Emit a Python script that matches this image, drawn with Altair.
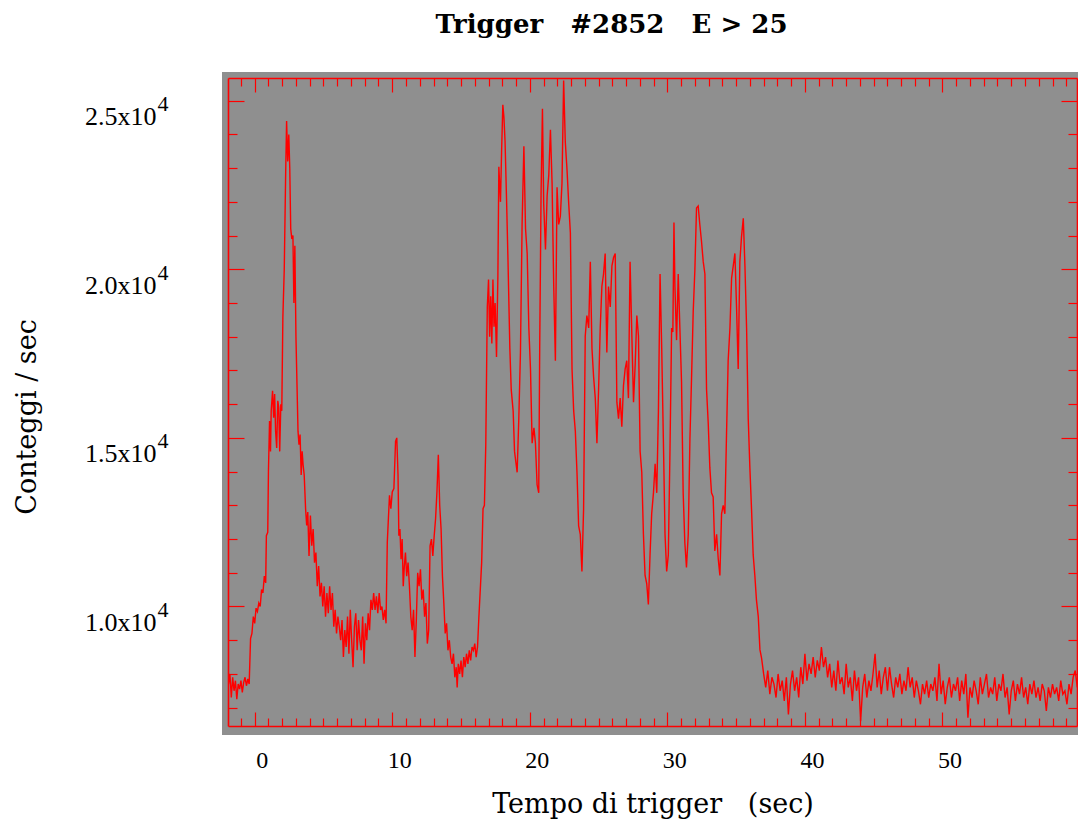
import altair as alt
import pandas as pd

# ---- data ----
burst_t = [
    -1.90, -1.80, -1.70, -1.60, -1.50, -1.40, -1.30, -1.20, -1.10, -1.00,
    -0.90, -0.80, -0.70, -0.60, -0.50, -0.40, -0.30, -0.20, -0.10, 0.00,
    0.10, 0.20, 0.30, 0.40, 0.50, 0.60, 0.70, 0.80, 0.85, 0.95,
    1.00, 1.08, 1.15, 1.20, 1.30, 1.38, 1.45, 1.52, 1.60, 1.68,
    1.75, 1.82, 1.90, 1.97, 2.05, 2.15, 2.25, 2.32, 2.40, 2.48,
    2.55, 2.62, 2.70, 2.78, 2.85, 2.92, 3.00, 3.08, 3.15, 3.22,
    3.30, 3.38, 3.45, 3.52, 3.60, 3.70, 3.78, 3.86, 3.95, 4.05,
    4.15, 4.25, 4.35, 4.45, 4.55, 4.65, 4.75, 4.85, 4.95, 5.05,
    5.15, 5.25, 5.35, 5.45, 5.55, 5.65, 5.75, 5.85, 5.95, 6.05,
    6.15, 6.25, 6.35, 6.45, 6.55, 6.65, 6.75, 6.85, 6.95, 7.05,
    7.15, 7.25, 7.35, 7.45, 7.55, 7.65, 7.75, 7.85, 7.95, 8.05,
    8.15, 8.25, 8.35, 8.45, 8.55, 8.65, 8.75, 8.85, 8.95, 9.05,
    9.15, 9.25, 9.35, 9.45, 9.55, 9.64, 9.72, 9.80, 9.90, 10.00,
    10.12, 10.24, 10.33, 10.42, 10.48, 10.56, 10.64, 10.72, 10.80, 10.88,
    10.96, 11.05, 11.15, 11.25, 11.35, 11.45, 11.55, 11.65, 11.75, 11.85,
    11.95, 12.05, 12.15, 12.25, 12.35, 12.45, 12.55, 12.65, 12.75, 12.85,
    12.95, 13.05, 13.15, 13.25, 13.35, 13.45, 13.55, 13.65, 13.75, 13.85,
    13.95, 14.05, 14.15, 14.25, 14.35, 14.45, 14.55, 14.65, 14.72, 14.80,
    14.90, 15.00, 15.10, 15.20, 15.30, 15.40, 15.50, 15.60, 15.70, 15.80,
    15.90, 16.00, 16.10, 16.20, 16.30, 16.40, 16.50, 16.60, 16.70, 16.80,
    16.91, 17.00, 17.08, 17.16, 17.24, 17.32, 17.40, 17.48, 17.58, 17.68,
    17.75, 17.87, 17.95, 18.04, 18.12, 18.20, 18.31, 18.41, 18.55, 18.65,
    18.79, 18.89, 18.98, 19.08, 19.20, 19.32, 19.44, 19.57, 19.69, 19.81,
    19.93, 20.05, 20.17, 20.30, 20.41, 20.53, 20.65, 20.72, 20.82, 20.92,
    21.01, 21.14, 21.26, 21.38, 21.50, 21.62, 21.74, 21.86, 21.98, 22.10,
    22.22, 22.34, 22.46, 22.58, 22.71, 22.83, 22.95, 23.07, 23.19, 23.31,
    23.43, 23.55, 23.67, 23.79, 23.91, 24.03, 24.15, 24.28, 24.40, 24.52,
    24.64, 24.76, 24.88, 25.00, 25.12, 25.24, 25.36, 25.48, 25.60, 25.72,
    25.85, 25.97, 26.09, 26.21, 26.33, 26.45, 26.57, 26.69, 26.81, 26.93,
    27.05, 27.17, 27.29, 27.42, 27.54, 27.66, 27.78, 27.90, 28.02, 28.14,
    28.26, 28.38, 28.50, 28.62, 28.74, 28.86, 28.99, 29.11, 29.23, 29.35,
    29.47, 29.59, 29.71, 29.83, 29.95, 30.07, 30.19, 30.31, 30.40, 30.48,
    30.55, 30.67, 30.79, 30.91, 31.03, 31.15, 31.27, 31.39, 31.52, 31.64,
    31.76, 31.88, 32.00, 32.12, 32.24, 32.36, 32.48, 32.61, 32.73, 32.85,
    32.97, 33.09, 33.21, 33.33, 33.45, 33.58, 33.70, 33.82, 33.94, 34.06,
    34.18, 34.30, 34.42, 34.55, 34.67, 34.79, 34.91, 35.03, 35.15, 35.27,
    35.39, 35.52, 35.64, 35.76, 35.88, 36.00, 36.12, 36.24, 36.36, 36.48,
    36.61, 36.73, 36.85,
]
burst_counts = [
    7700, 8000, 7300, 7900, 7500, 7800, 7250, 7700, 7550, 7800,
    7450, 7750, 7900, 7650, 7850, 7700, 9050, 9200, 9700, 9500,
    9950, 9850, 10100, 10000, 10500, 10400, 10900, 10700, 12100, 12200,
    14000, 15500, 14600, 15800, 16400, 15600, 16300, 15200, 14700, 16100,
    15900, 14600, 16000, 15800, 18600, 20000, 22800, 24400, 23200, 24000,
    23000, 21200, 20900, 21000, 19000, 20700, 18000, 16500, 15200, 14800,
    15100, 13900, 14600, 14200, 13900, 12900, 12400, 12800, 11500, 12700,
    11800, 12300, 11300, 11600, 10600, 11200, 10300, 10700, 10000, 10600,
    9700, 10400, 9800, 10600, 9900, 10400, 9400, 9900, 9200, 9700,
    9400, 9000, 9600, 8500, 9300, 8800, 9700, 8600, 9900, 9000,
    8200, 9400, 9800, 8700, 9600, 9000, 8700, 9700, 8300, 9500,
    9000, 9800, 9300, 10200, 9900, 10400, 9900, 10300, 9800, 10400,
    9900, 10000, 9600, 9900, 9500, 11900, 12600, 13300, 12900, 13400,
    13500, 14900, 15000, 13900, 12100, 12300, 11400, 12000, 10600, 11200,
    11600, 10900, 11300, 10600, 9700, 9300, 9900, 8500, 9600, 11000,
    10600, 11100, 10200, 10500, 9700, 10100, 8900, 9300, 11800, 12000,
    11500, 12100, 12600, 13400, 14500, 13000, 12300, 10900, 10100, 9200,
    9500, 8700, 9000, 8500, 8300, 8600, 7900, 8200, 7600, 8300,
    8000, 8400, 7900, 8500, 8200, 8600, 8300, 8700, 8400, 8800,
    8700, 8900, 8500, 8800, 9700, 10500, 11300, 12900, 13000, 14800,
    18880, 19700, 18000, 19200, 17800, 19700, 18300, 19000, 17400, 19800,
    23040, 22000, 23500, 24880, 24500, 23800, 22060, 20350, 17650, 16430,
    15800, 14600, 14300, 13980, 15570, 17530, 21330, 23650, 21200, 20470,
    18260, 17040, 14840, 15300, 14840, 13610, 13370, 17650, 22300, 24760,
    21940, 20590, 22180, 22800, 24140, 22550, 19490, 17290, 22430, 21330,
    21570, 22550, 25600, 23780, 22920, 21940, 21080, 17040, 15800, 15200,
    13980, 12390, 12140, 11040, 12880, 18020, 18630, 18260, 20220, 17650,
    16800, 16180, 14840, 16430, 18260, 19490, 19860, 20470, 17530, 19490,
    18880, 20100, 20350, 20470, 16060, 15570, 16180, 15330, 16550, 17040,
    17290, 16180, 20220, 18020, 16060, 17160, 18630, 18020, 14600, 13980,
    12140, 10920, 10680, 10060, 11530, 12750, 13370, 14230, 13370, 15800,
    19860, 17650, 14960, 12140, 11040, 11530, 14600, 18260, 18140, 21390,
    19490, 17900, 19860, 18260, 16670, 13370, 11900, 11160, 12140, 14960,
    16800, 18750, 19980, 21820, 21880, 21330, 20840, 20220, 19860, 16430,
    15450, 14110, 13370, 13250, 11650, 12140, 11410, 10920, 12750, 13000,
    12750, 15080, 17290, 18260, 19740, 20100, 20470, 18880, 17040, 20220,
    20960, 21510, 20100, 18260, 15570, 14110, 12880, 11530, 10920, 10180,
    9700, 8720, 8470,
]

tail_start = 37.0
tail_step = 0.15
tail_counts = [
    8000, 7600, 8100, 7400, 7900, 7700, 7300, 8000, 7500, 7800,
    7200, 7900, 6800, 7700, 8100, 7500, 7900, 7300, 8200, 7700,
    8600, 7800, 8300, 8000, 8500, 7900, 8400, 8100, 8800, 8200,
    8500, 7900, 8300, 7600, 8100, 7500, 8400, 7700, 7900, 7400,
    8300, 7600, 7900, 7200, 8100, 7500, 7900, 6600, 7600, 8000,
    7300, 7800, 7500, 8000, 8600, 7600, 8100, 7400, 7900, 8200,
    7500, 8200, 7700, 7300, 7900, 7600, 8000, 7400, 7800, 7500,
    8200, 7600, 7900, 7300, 7800, 7500, 7100, 7700, 7400, 7800,
    7300, 7700, 7500, 7900, 7200, 8300, 7400, 7800, 7100, 7600,
    7900, 7300, 7700, 7500, 7900, 7200, 7800, 7400, 8000, 6700,
    7600, 7300, 7800, 7500, 7100, 7900, 7400, 7700, 8000, 7300,
    7600, 7400, 7900, 7200, 7700, 7500, 8000, 7300, 7600, 6800,
    7500, 7800, 7200, 7700, 7400, 7900, 7300, 7600, 7100, 7700,
    7400, 7800, 7300, 7600, 7200, 7700, 7500, 6900, 7600, 7300,
    7700, 7400, 7600, 7200, 7800, 7400, 7500, 7100, 7700, 7400,
    7900, 8100, 7600,
]
tail_t = [round(tail_start + tail_step * i, 2) for i in range(len(tail_counts))]

x_major = [0, 10, 20, 30, 40, 50]
x_minor = list(range(-1, 60))
y_major = [10000, 15000, 20000, 25000]
y_minor = list(range(7000, 26000, 1000))

title_text = "Trigger\u00a0\u00a0\u00a0#2852\u00a0\u00a0\u00a0E > 25"
x_title = "Tempo di trigger\u00a0\u00a0\u00a0(sec)"
y_title = "Conteggi / sec"
y_exponent = "4"

df = pd.DataFrame({"t": burst_t + tail_t, "c": burst_counts + tail_counts})

W, H = 849, 648
RED = "#ff0000"
GRAY = "#8f8f8f"
FONT = "DejaVu Serif"
NUMFONT = "Liberation Serif"

xscale = alt.Scale(domain=[-1.94, 59.78], nice=False, zero=False)
yscale = alt.Scale(domain=[6456, 25673], nice=False, zero=False)

x_tick_size = {"condition": {"test": "datum.value % 10 === 0", "value": 14}, "value": 8}
y_tick_size = {"condition": {"test": "datum.value % 5000 === 0", "value": 16}, "value": 9}

bg = alt.Chart(pd.DataFrame({"k": [0]})).mark_rect(color=GRAY).encode(
    x=alt.value(-6), x2=alt.value(W + 10), y=alt.value(-6), y2=alt.value(H + 9)
)

line = alt.Chart(df).mark_line(color=RED, strokeWidth=1.4, clip=True).encode(
    x=alt.X("t:Q", scale=xscale, axis=alt.Axis(
        orient="bottom", values=x_major, ticks=False, tickSize=0, domain=False, grid=False,
        labelFont=NUMFONT, labelFontSize=24, labelColor="black", labelPadding=41,
        labelBaseline="alphabetic", labelOffset=7,
        title=x_title, titleFont=FONT, titleFontSize=27, titleFontWeight="normal",
        titleColor="black", titleX=W / 2, titleY=86, titleBaseline="alphabetic",
        titleAlign="center")),
    y=alt.Y("c:Q", scale=yscale, axis=alt.Axis(
        orient="left", values=y_major, ticks=False, tickSize=0, domain=False, grid=False,
        labelExpr="format(datum.value / 10000, '.1f') + 'x10'",
        labelFont=NUMFONT, labelFontSize=26, labelColor="black", labelPadding=72,
        labelBaseline="alphabetic", labelOffset=24,
        title=y_title, titleFont=FONT, titleFontSize=27, titleFontWeight="normal",
        titleColor="black", titleAngle=270, titleX=-193, titleY=338.5,
        titleBaseline="alphabetic", titleAlign="center")),
)

# superscript exponent of the y labels
sup = alt.Chart(df).mark_point(opacity=0).encode(
    y=alt.Y("c:Q", scale=yscale, axis=alt.Axis(
        orient="left", values=y_major, ticks=False, tickSize=0, domain=False, grid=False,
        labelExpr="'" + y_exponent + "'",
        labelFont=NUMFONT, labelFontSize=22, labelColor="black", labelPadding=71,
        labelAlign="left", labelBaseline="alphabetic", labelOffset=10, title="")),
)


def tick_layer(x_orient, y_orient):
    return alt.Chart(df).mark_line(opacity=0).encode(
        x=alt.X("t:Q", scale=xscale, axis=alt.Axis(
            orient=x_orient, offset=-H, values=x_minor, labels=False, grid=False,
            domain=True, domainColor=RED, domainWidth=1.6,
            tickColor=RED, tickWidth=1.2, tickSize=x_tick_size, title="", zindex=1)),
        y=alt.Y("c:Q", scale=yscale, axis=alt.Axis(
            orient=y_orient, offset=-W, values=y_minor, labels=False, grid=False,
            domain=True, domainColor=RED, domainWidth=1.6,
            tickColor=RED, tickWidth=1.2, tickSize=y_tick_size, title="", zindex=1)),
    )


ticks_a = tick_layer("top", "right")     # drawn on bottom and left edges, pointing inward
ticks_b = tick_layer("bottom", "left")   # drawn on top and right edges, pointing inward

chart = alt.layer(bg, line, sup, ticks_a, ticks_b).resolve_axis(
    x="independent", y="independent"
).properties(
    width=W, height=H,
    autosize=alt.AutoSizeParams(type="none"),
    padding={"left": 228, "top": 78, "right": 1, "bottom": 97},
    title=alt.TitleParams(
        text=title_text, font=FONT, fontSize=26, fontWeight="bold", color="black",
        anchor="middle", frame="group", offset=13, baseline="alphabetic", dx=-41),
).configure_view(strokeWidth=0).configure(background="white")

chart.save("out.html", embed_options={"renderer": "svg", "actions": False})
